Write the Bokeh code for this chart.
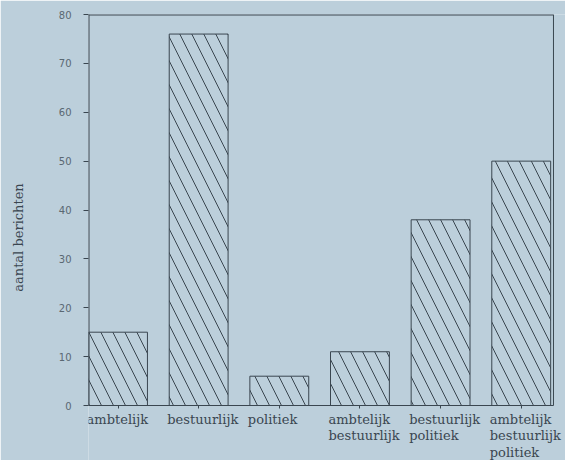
from bokeh.plotting import figure
from bokeh.embed import file_html
from bokeh.resources import INLINE
from bokeh.models import Range1d, FixedTicker, ColumnDataSource
from bokeh.core.properties import value

categories = ["ambtelijk", "bestuurlijk", "politiek",
              "ambtelijk\nbestuurlijk", "bestuurlijk\npolitiek",
              "ambtelijk\nbestuurlijk\npolitiek"]
values = [15, 76, 6, 11, 38, 50]
positions = [1, 2, 3, 4, 5, 6]          # left edges of the bars
y_ticks = [0, 10, 20, 30, 40, 50, 60, 70, 80]
y_title = "aantal berichten"

BG = "#bccfdb"
INK = "#3a4650"
BAR_W = 0.73
X_MIN, X_BOX, X_MAX = 0.999, 6.765, 6.914   # box right edge at X_BOX; frame runs on for label room
Y_MIN, Y_MAX = -11.25, 80                    # room below the axis for the category labels

p = figure(width=565, height=460, output_backend="svg", toolbar_location=None,
           x_range=Range1d(X_MIN, X_MAX), y_range=Range1d(Y_MIN, Y_MAX),
           min_border_left=88, min_border_right=0, min_border_top=14, min_border_bottom=0)
p.background_fill_color = BG
p.border_fill_color = BG
p.outline_line_color = None
p.outline_line_alpha = 0
p.outline_line_width = 0
p.grid.visible = False

src = ColumnDataSource(dict(left=positions, right=[x + BAR_W for x in positions],
                            top=values, label=categories))
p.quad(left="left", right="right", top="top", bottom=0, source=src,
       fill_color=BG, line_color=INK, line_width=1,
       hatch_pattern="\\", hatch_color=INK, hatch_scale=24, hatch_weight=1)

# box edges: left (at frame edge), top (at frame edge) and right
p.segment(x0=[X_MIN, X_MIN], y0=[0, Y_MAX], x1=[X_MIN, X_BOX], y1=[Y_MAX, Y_MAX],
          line_color=INK, line_width=2)
p.segment(x0=[X_BOX], y0=[0], x1=[X_BOX], y1=[Y_MAX], line_color=INK, line_width=1)

# category labels, left-aligned at each bar's left edge
p.text(x="left", y=-1.3, text="label", source=src, x_offset=-2,
       text_font=value("DejaVu Serif"), text_font_size="13px", text_color=INK,
       text_align="left", text_baseline="top", text_line_height=1.1)

# bottom axis drawn at y = 0, small ticks at bar centres (as minor ticks, no tick labels)
p.xaxis.fixed_location = 0
p.xaxis.bounds = (X_MIN, X_BOX)
p.xaxis.ticker = FixedTicker(ticks=[], minor_ticks=[x + BAR_W / 2 for x in positions])
p.xaxis.minor_tick_in = 0
p.xaxis.minor_tick_out = 3
p.xaxis.minor_tick_line_color = INK
p.xaxis.major_tick_line_color = None
p.xaxis.axis_line_color = INK

p.yaxis.ticker = FixedTicker(ticks=y_ticks)
p.yaxis.bounds = (0, 80)
p.yaxis.major_label_text_font = "DejaVu Sans"
p.yaxis.major_label_text_font_size = "10px"
p.yaxis.major_label_text_color = "#5a6872"
p.yaxis.major_tick_in = 0
p.yaxis.major_tick_out = 5
p.yaxis.minor_tick_line_color = None
p.yaxis.axis_line_color = None
p.yaxis.major_tick_line_color = INK
p.yaxis.major_label_standoff = 12
p.yaxis.axis_label = y_title
p.yaxis.axis_label_text_font = "DejaVu Serif"
p.yaxis.axis_label_text_font_style = "normal"
p.yaxis.axis_label_text_font_size = "13px"
p.yaxis.axis_label_text_color = INK
p.yaxis.axis_label_standoff = 30

html = file_html(p, INLINE)
html = html.replace("<body>", '<body style="background:%s">' % BG, 1)
open("out.html", "w").write(html)
